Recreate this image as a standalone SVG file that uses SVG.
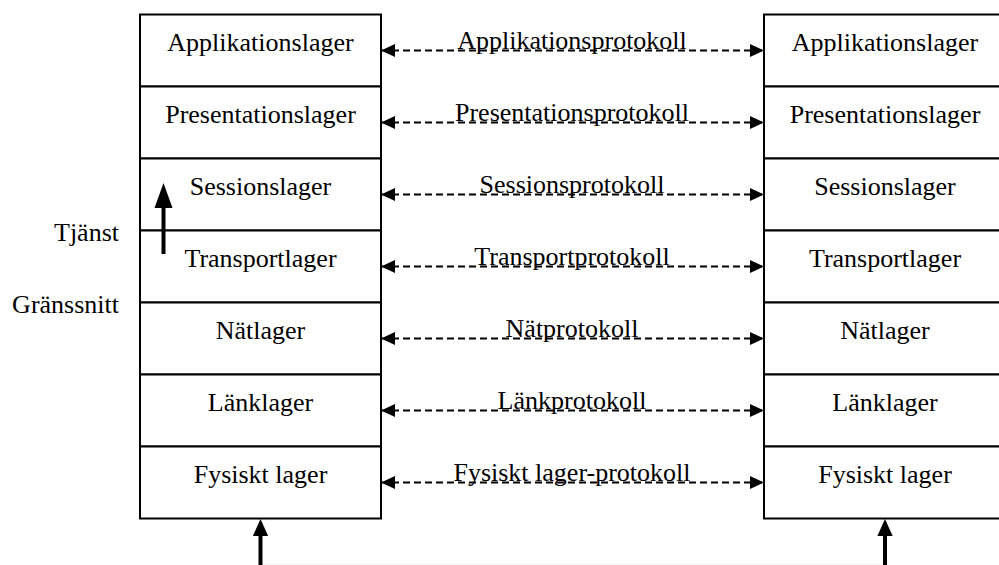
<svg xmlns="http://www.w3.org/2000/svg" width="999" height="565" viewBox="0 0 999 565">
  <style>
    .box { fill: #ffffff; stroke: #000000; stroke-width: 2; }
    .lbl { font-family: "Liberation Serif", "Times New Roman", serif; font-size: 26px; fill: #000000; }
    .mid { text-anchor: middle; }
    .end { text-anchor: end; }
    .proto { stroke: #000000; stroke-width: 2; stroke-dasharray: 7 4; fill: none; marker-start: url(#headL); marker-end: url(#headR); }
    .solid { stroke: #000000; stroke-width: 4; fill: none; }
  </style>
  <defs>
    <marker id="headR" markerUnits="userSpaceOnUse" markerWidth="14" markerHeight="13" refX="14" refY="6.5" orient="auto">
      <path d="M0,0 L14,6.5 L0,13 Z" fill="#000000"/>
    </marker>
    <marker id="headL" markerUnits="userSpaceOnUse" markerWidth="14" markerHeight="13" refX="0" refY="6.5" orient="auto">
      <path d="M14,0 L0,6.5 L14,13 Z" fill="#000000"/>
    </marker>
    <path id="upHead" d="M0,0 L9,25 L-9,25 Z" fill="#000000"/>
  </defs>

  <rect width="999" height="565" fill="#ffffff"/>

  <!-- Left protocol stack -->
  <g id="stack-a">
    <g id="a-app"><rect class="box" x="140" y="14.5" width="241" height="72"/><text class="lbl mid" x="260.5" y="50.5">Applikationslager</text></g>
    <g id="a-pres"><rect class="box" x="140" y="86.5" width="241" height="72"/><text class="lbl mid" x="260.5" y="122.5">Presentationslager</text></g>
    <g id="a-sess"><rect class="box" x="140" y="158.5" width="241" height="72"/><text class="lbl mid" x="260.5" y="194.5">Sessionslager</text></g>
    <g id="a-trans"><rect class="box" x="140" y="230.5" width="241" height="72"/><text class="lbl mid" x="260.5" y="266.5">Transportlager</text></g>
    <g id="a-net"><rect class="box" x="140" y="302.5" width="241" height="72"/><text class="lbl mid" x="260.5" y="338.5">Nätlager</text></g>
    <g id="a-link"><rect class="box" x="140" y="374.5" width="241" height="72"/><text class="lbl mid" x="260.5" y="410.5">Länklager</text></g>
    <g id="a-phys"><rect class="box" x="140" y="446.5" width="241" height="72"/><text class="lbl mid" x="260.5" y="482.5">Fysiskt lager</text></g>
  </g>

  <!-- Right protocol stack -->
  <g id="stack-b">
    <g id="b-app"><rect class="box" x="764" y="14.5" width="242" height="72"/><text class="lbl mid" x="885" y="50.5">Applikationslager</text></g>
    <g id="b-pres"><rect class="box" x="764" y="86.5" width="242" height="72"/><text class="lbl mid" x="885" y="122.5">Presentationslager</text></g>
    <g id="b-sess"><rect class="box" x="764" y="158.5" width="242" height="72"/><text class="lbl mid" x="885" y="194.5">Sessionslager</text></g>
    <g id="b-trans"><rect class="box" x="764" y="230.5" width="242" height="72"/><text class="lbl mid" x="885" y="266.5">Transportlager</text></g>
    <g id="b-net"><rect class="box" x="764" y="302.5" width="242" height="72"/><text class="lbl mid" x="885" y="338.5">Nätlager</text></g>
    <g id="b-link"><rect class="box" x="764" y="374.5" width="242" height="72"/><text class="lbl mid" x="885" y="410.5">Länklager</text></g>
    <g id="b-phys"><rect class="box" x="764" y="446.5" width="242" height="72"/><text class="lbl mid" x="885" y="482.5">Fysiskt lager</text></g>
  </g>

  <!-- Side labels -->
  <g id="side-labels">
    <text class="lbl end" x="119" y="241">Tjänst</text>
    <text class="lbl end" x="119" y="313">Gränssnitt</text>
  </g>

  <!-- Peer protocol connectors and service arrows -->
  <g id="connectors">
    <line class="proto" x1="381" y1="50.5" x2="764" y2="50.5"/>
    <line class="proto" x1="381" y1="122.5" x2="764" y2="122.5"/>
    <line class="proto" x1="381" y1="194.5" x2="764" y2="194.5"/>
    <line class="proto" x1="381" y1="266.5" x2="764" y2="266.5"/>
    <line class="proto" x1="381" y1="338.5" x2="764" y2="338.5"/>
    <line class="proto" x1="381" y1="410.5" x2="764" y2="410.5"/>
    <line class="proto" x1="381" y1="482.5" x2="764" y2="482.5"/>

    <text class="lbl mid" x="572" y="48.5">Applikationsprotokoll</text>
    <text class="lbl mid" x="572" y="120.5">Presentationsprotokoll</text>
    <text class="lbl mid" x="572" y="192.5">Sessionsprotokoll</text>
    <text class="lbl mid" x="572" y="264.5">Transportprotokoll</text>
    <text class="lbl mid" x="572" y="336.5">Nätprotokoll</text>
    <text class="lbl mid" x="572" y="408.5">Länkprotokoll</text>
    <text class="lbl mid" x="572" y="480.5">Fysiskt lager-protokoll</text>

    <!-- service arrow across the interface -->
    <line class="solid" x1="163.5" y1="254" x2="163.5" y2="205"/>
    <use href="#upHead" x="163.5" y="183"/>

    <!-- physical medium -->
    <line x1="262" y1="564.5" x2="885" y2="564.5" stroke="#f3f3f3" stroke-width="1"/>
    <line class="solid" x1="260.5" y1="565" x2="260.5" y2="530"/>
    <use href="#upHead" transform="translate(260.5,519) scale(0.85,0.68)"/>
    <line class="solid" x1="885" y1="565" x2="885" y2="530"/>
    <use href="#upHead" transform="translate(885,519) scale(0.85,0.68)"/>
  </g>
</svg>
